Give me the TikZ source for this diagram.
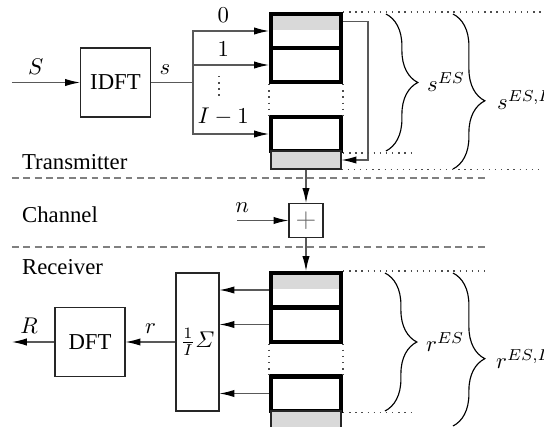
\documentclass[tikz,border=0pt]{standalone}
\usepackage{amsmath}
\usepackage{fontspec}
\setmainfont{Liberation Serif}
\usetikzlibrary{arrows.meta,calc,decorations.pathreplacing}

\definecolor{wire}{gray}{0.35}
\definecolor{pad}{gray}{0.85}
\tikzstyle{blk}=[draw=black!85,rectangle,inner sep=0pt,minimum width=30.8pt,minimum height=30.4pt]
\tikzstyle{sym}=[draw,rectangle,line width=1.8pt,inner sep=0pt,minimum width=30.8pt,minimum height=15pt]
\tikzstyle{cp}=[draw=black!85,rectangle,fill=pad,inner sep=0pt,minimum width=30.8pt,minimum height=7.9pt]
\tikzstyle{sig}=[draw=wire,-{Latex[length=6.5pt,width=3.2pt,color=black]}]
\tikzstyle{guide}=[draw=black!70,line width=0.6pt,dash pattern=on 0.6pt off 2.1pt]
\tikzstyle{zone}=[draw=gray,dash pattern=on 3pt off 2pt]
\tikzstyle{brc}=[decorate,decoration={brace,amplitude=14pt}]

\begin{document}
\begin{tikzpicture}[x=0.44pt,y=-0.44pt,line width=0.5pt]
  \useasboundingbox (0,0) rectangle (544,427);

  % transmitter
  \coordinate (sin) at (12,82.5);
  \node[blk] (idft) at (115.5,82.5) {IDFT};
  \coordinate (fork) at (193,82.5);

  \fill[pad] (271,14) rectangle (341,30);
  \node[sym] (tb0) at (306,31) {};
  \node[sym] (tb1) at (306,65) {};
  \node[sym] (tbI) at (306,134) {};
  \node[cp] (tcp) at (306,160) {};

  \draw[sig] (sin) -- node[above,pos=0.35] {$S$} (idft);
  \draw[draw=wire] (idft) -- node[above,pos=0.33] {$s$} (fork);
  \draw[sig] (fork) |- node[above,pos=0.7] {$0$} (tb0.west);
  \draw[sig] (fork) |- node[above,pos=0.7] {$1$} (tb1.west);
  \draw[sig] (fork) |- node[above,pos=0.7] {$I-1$} (tbI.west);
  \draw[guide] (219,76) -- (219,99);

  % cyclic prefix copy
  \draw[sig] ($(tb0.north east)!0.5!(tb0.east)$) -- ++(25,0) |- (tcp.east);

  \draw[guide] (tb1.south west) -- (tbI.north west);
  \draw[guide] (tb1.south east) -- (tbI.north east);
  \draw[guide] (tb0.north east) -- ++(199,0);
  \draw[guide] (tbI.south east) -- ++(71,0);
  \draw[guide] (tcp.south east) -- ++(199,0);

  \draw[brc] (386,14) -- (386,151);
  \node[anchor=west] (ses) at (419,82) {$s^{ES}$};
  \draw[brc,decoration={aspect=0.56}] (453,14) -- (453,169);
  \node[anchor=west] (sesl) at (489,100) {$s^{ES,L}$};

  \node[anchor=west] (tx) at (14,162) {Transmitter};
  \draw[zone] (12,178) -- (488,178);

  % channel
  \node[anchor=west] (ch) at (14,215) {Channel};
  \coordinate (nin) at (237,220.5);
  \node[draw=black!85,minimum size=15pt,inner sep=0pt,text=black!60,font=\large] (adder) at (306,220.5) {$+$};
  \draw[sig] (tcp) -- (adder);
  \draw[sig] (nin) -- node[above,pos=0.1] {$n$} (adder);

  \draw[zone] (12,247) -- (488,247);
  \node[anchor=west] (rx) at (14,267) {Receiver};

  % receiver
  \fill[pad] (271,273) rectangle (341,289);
  \node[sym] (rb0) at (306,290) {};
  \node[sym] (rb1) at (306,324.5) {};
  \node[sym] (rbI) at (306,393.5) {};
  \node[cp] (rcp) at (306,420) {};
  \draw[sig] (adder) -- (rb0);

  \node[blk,minimum width=18.9pt,minimum height=60.7pt] (avg) at (197.5,342) {$\frac{1}{I}\varSigma$};
  \node[blk] (dft) at (90,342) {DFT};
  \coordinate (rout) at (12,342);

  \draw[sig] (rb0.west) -- (rb0.west -| avg.east);
  \draw[sig] (rb1.west) -- (rb1.west -| avg.east);
  \draw[sig] (rbI.west) -- (rbI.west -| avg.east);
  \draw[sig] (avg) -- node[above] {$r$} (dft);
  \draw[sig] (dft) -- node[above,pos=0.6] {$R$} (rout);

  \draw[guide] (rb1.south west) -- (rbI.north west);
  \draw[guide] (rb1.south east) -- (rbI.north east);
  \draw[guide] (rb0.north east) -- ++(142,0);
  \draw[guide] (rbI.south east) -- ++(72,0);

  \draw[brc] (385,273) -- (385,411);
  \node[anchor=west] (res) at (418,342) {$r^{ES}$};
  \draw[brc,decoration={aspect=0.56}] (453,273) -- (453,426);
  \node[anchor=west] (resl) at (488,359) {$r^{ES,L}$};
\end{tikzpicture}
\end{document}
